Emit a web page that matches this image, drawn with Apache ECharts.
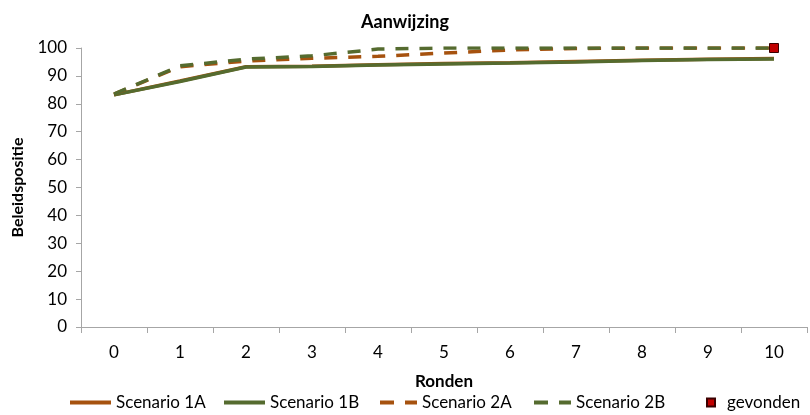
<!DOCTYPE html>
<html><head><meta charset="utf-8">
<script src="https://cdn.jsdelivr.net/npm/echarts@6/dist/echarts.min.js"></script>
<style>html,body{margin:0;padding:0;background:#fff}#c{width:810px;height:415px}</style>
</head><body><div id="c"></div>
<script>
var categories = ['0','1','2','3','4','5','6','7','8','9','10'];
var scenario1A = [83.2, 88.2, 93.3, 93.5, 94.0, 94.4, 94.7, 95.2, 95.6, 96.0, 96.2];
var scenario1B = [83.2, 88.0, 93.2, 93.4, 93.9, 94.3, 94.6, 95.0, 95.5, 95.9, 96.1];
var scenario2A = [83.5, 93.3, 95.3, 96.3, 97.0, 98.2, 99.3, 99.8, 100, 100, 100];
var scenario2B = [83.5, 93.6, 96.0, 97.2, 99.6, 100, 100, 100, 100, 100, 100];
var gevonden = [null, null, null, null, null, null, null, null, null, null, 100];

var ORANGE = '#A6520F', GREEN = '#556B2F', RED = '#C00000';
var FONT = 'Lato';
var SOLID = 'path://M0,0h42v4h-42z';
var DASH = 'path://M0,0h14v4h-14z M25,0h12v4h-12z';
var SQUARE = 'path://M0,0h10v10h-10z';

function leg(name, icon, left, w, h, top) {
  return {data: [{name: name, icon: icon}], left: left, top: top, itemWidth: w, itemHeight: h,
    padding: 0, symbolKeepAspect: true,
    textStyle: {fontFamily: FONT, fontSize: 17, color: '#000'}};
}

var chart = echarts.init(document.getElementById('c'), null, {renderer: 'canvas'});
chart.setOption({
  animation: false,
  textStyle: {fontFamily: FONT},
  title: {text: 'Aanwijzing', left: 'center', top: 8,
    textStyle: {fontFamily: FONT, fontWeight: 'bold', fontSize: 18, color: '#000'}},
  grid: {left: 81, right: 3, top: 48, bottom: 88},
  legend: [
    leg('Scenario 1A', SOLID, 70, 41, 14, 394),
    leg('Scenario 1B', SOLID, 224, 41, 14, 394),
    leg('Scenario 2A', DASH, 380, 37, 14, 394),
    leg('Scenario 2B', DASH, 534, 37, 14, 394),
    leg('gevonden', SQUARE, 706, 22, 8, 394)
  ],
  xAxis: {type: 'category', data: categories, boundaryGap: true,
    name: 'Ronden', nameLocation: 'middle', nameGap: 46,
    nameTextStyle: {fontFamily: FONT, fontWeight: 'bold', fontSize: 17, color: '#000'},
    axisLine: {lineStyle: {color: '#A6A6A6'}},
    axisTick: {show: true, alignWithLabel: false, length: 6, lineStyle: {color: '#A6A6A6'}},
    axisLabel: {color: '#000', fontSize: 17, margin: 17, fontFamily: FONT},
    splitLine: {show: false}},
  yAxis: {type: 'value', min: 0, max: 100, interval: 10,
    name: 'Beleidspositie', nameLocation: 'middle', nameGap: 55, nameRotate: 90,
    nameTextStyle: {fontFamily: FONT, fontWeight: 'bold', fontSize: 16, color: '#000'},
    axisLine: {show: true, lineStyle: {color: '#A6A6A6'}},
    axisTick: {show: true, length: 5, lineStyle: {color: '#A6A6A6'}},
    axisLabel: {color: '#000', fontSize: 17, margin: 14, fontFamily: FONT},
    splitLine: {show: false}},
  series: [
    {name: 'Scenario 1A', type: 'line', data: scenario1A, symbol: 'none',
     itemStyle: {color: ORANGE}, lineStyle: {color: ORANGE, width: 3.5}},
    {name: 'Scenario 1B', type: 'line', data: scenario1B, symbol: 'none',
     itemStyle: {color: GREEN}, lineStyle: {color: GREEN, width: 3.5}},
    {name: 'Scenario 2A', type: 'line', data: scenario2A, symbol: 'none',
     itemStyle: {color: ORANGE}, lineStyle: {color: ORANGE, width: 3.5, type: [13, 11]}},
    {name: 'Scenario 2B', type: 'line', data: scenario2B, symbol: 'none',
     itemStyle: {color: GREEN}, lineStyle: {color: GREEN, width: 3.5, type: [13, 11]}},
    {name: 'gevonden', type: 'line', data: gevonden, symbol: 'rect', symbolSize: 9,
     lineStyle: {width: 0}, itemStyle: {color: RED, borderColor: '#3a0000', borderWidth: 1}}
  ]
});
</script></body></html>
